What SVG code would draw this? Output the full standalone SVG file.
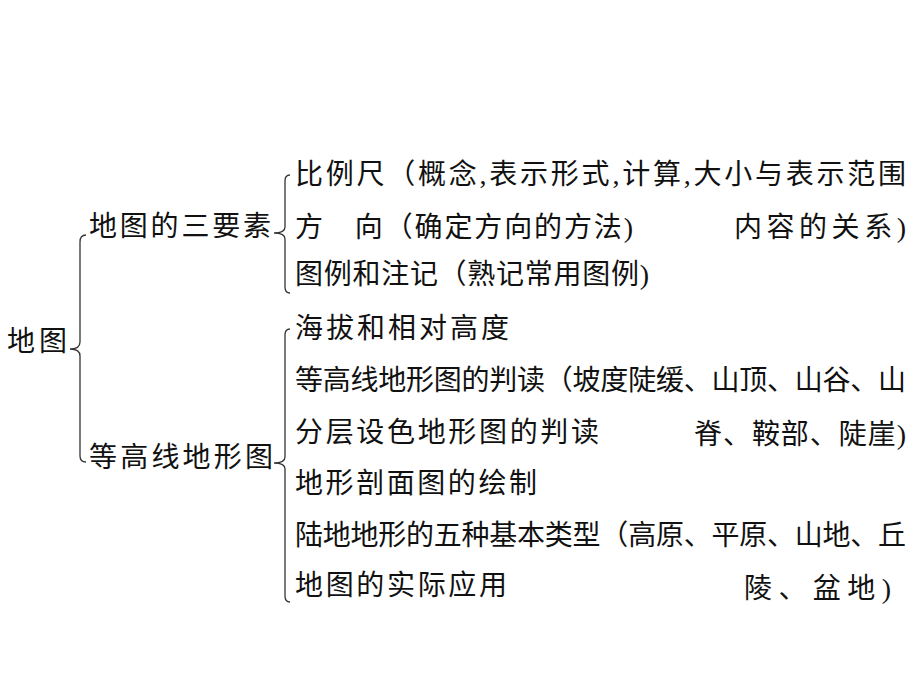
<svg xmlns="http://www.w3.org/2000/svg" width="920" height="690" viewBox="0 0 920 690">
<style>
.t{font-family:"Liberation Serif","Noto Sans CJK SC",serif;font-size:28px;fill:#111;}
.b{fill:none;stroke:#333;stroke-width:1.3;}
</style>
<rect width="920" height="690" fill="#fff"/>
<g id="connectors">
<path class="b" d="M 86,235 C 82,235 80,237 80,242 L 80,342 C 80,346 77,349 70,349 C 77,349 80,352 80,356 L 80,456 C 80,460 82,462 86,462"/>
<path class="b" d="M 290,175 C 286,175 285,177 285,181 L 285,227 C 285,231 282,233 274,233 C 282,233 285,235 285,239 L 285,287 C 285,291 286,293 290,293"/>
<path class="b" d="M 290,329 C 286,329 285,331 285,335 L 285,457 C 285,461 282,463 274,463 C 282,463 285,465 285,469 L 285,596 C 285,600 286,602 290,602"/>
</g>
<g id="root"><text class="t" x="7" y="351" textLength="60" lengthAdjust="spacing">地图</text></g>
<g id="n-sanyaosu"><text class="t" x="89" y="236" textLength="182" lengthAdjust="spacing">地图的三要素</text></g>
<g id="n-dengaoxian"><text class="t" x="89" y="467" textLength="184" lengthAdjust="spacing">等高线地形图</text></g>
<g id="n-bilichi">
<text class="t" x="295" y="184" textLength="611" lengthAdjust="spacing">比例尺（概念,表示形式,计算,大小与表示范围</text>
<text class="t" x="734" y="237" textLength="172" lengthAdjust="spacing">内容的关系)</text>
</g>
<g id="n-fangxiang"><text class="t" x="295" y="237" textLength="338" lengthAdjust="spacing">方　向（确定方向的方法)</text></g>
<g id="n-tuli"><text class="t" x="295" y="284" textLength="354" lengthAdjust="spacing">图例和注记（熟记常用图例)</text></g>
<g id="n-haiba"><text class="t" x="295" y="338" textLength="214" lengthAdjust="spacing">海拔和相对高度</text></g>
<g id="n-pandu">
<text class="t" x="295" y="390" textLength="611" lengthAdjust="spacing">等高线地形图的判读（坡度陡缓、山顶、山谷、山</text>
<text class="t" x="694" y="444" textLength="212" lengthAdjust="spacing">脊、鞍部、陡崖)</text>
</g>
<g id="n-fenceng"><text class="t" x="295" y="442" textLength="304" lengthAdjust="spacing">分层设色地形图的判读</text></g>
<g id="n-poumian"><text class="t" x="295" y="493" textLength="242" lengthAdjust="spacing">地形剖面图的绘制</text></g>
<g id="n-ludi">
<text class="t" x="295" y="545" textLength="611" lengthAdjust="spacing">陆地地形的五种基本类型（高原、平原、山地、丘</text>
<text class="t" x="744" y="598" textLength="147" lengthAdjust="spacing">陵、盆地)</text>
</g>
<g id="n-shiji"><text class="t" x="295" y="595" textLength="212" lengthAdjust="spacing">地图的实际应用</text></g>
</svg>
